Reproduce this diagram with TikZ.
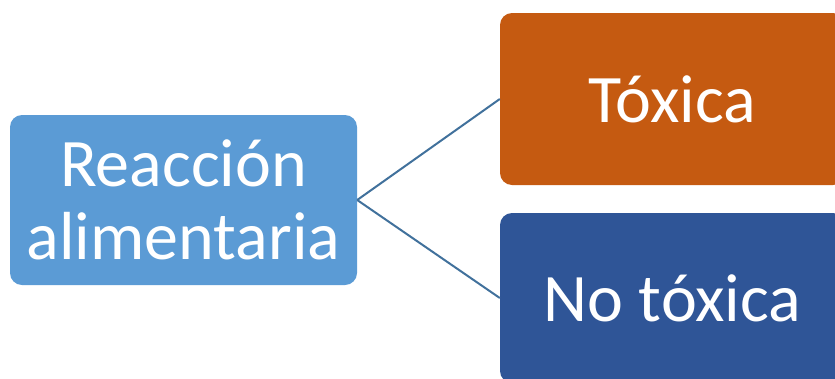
\documentclass[tikz,border=0pt]{standalone}
\usepackage{fontspec}
\setmainfont{Carlito}
\definecolor{cblue}{HTML}{5B9BD5}
\definecolor{corange}{HTML}{C55A11}
\definecolor{cdark}{HTML}{2F5597}
\definecolor{cline}{HTML}{41719C}
\begin{document}
\begin{tikzpicture}[x=1pt,y=-1pt,
  box/.style={rectangle, rounded corners=12pt, inner sep=0pt, text=white,
    align=center, font=\fontsize{68}{73}\selectfont},
  link/.style={draw=cline, line width=2pt}]
\useasboundingbox (0,0) rectangle (835,378);
\node[box, fill=cblue, minimum width=347pt, minimum height=170pt] (L) at (183.5,200) {Reacción\\alimentaria};
\node[box, fill=corange, minimum width=345pt, minimum height=172pt] (T) at (672.5,99) {Tóxica};
\node[box, fill=cdark, minimum width=345pt, minimum height=170pt] (N) at (672.5,298) {No tóxica};
\draw[link] (L.east) -- (T.west);
\draw[link] (L.east) -- (N.west);
\end{tikzpicture}
\end{document}
